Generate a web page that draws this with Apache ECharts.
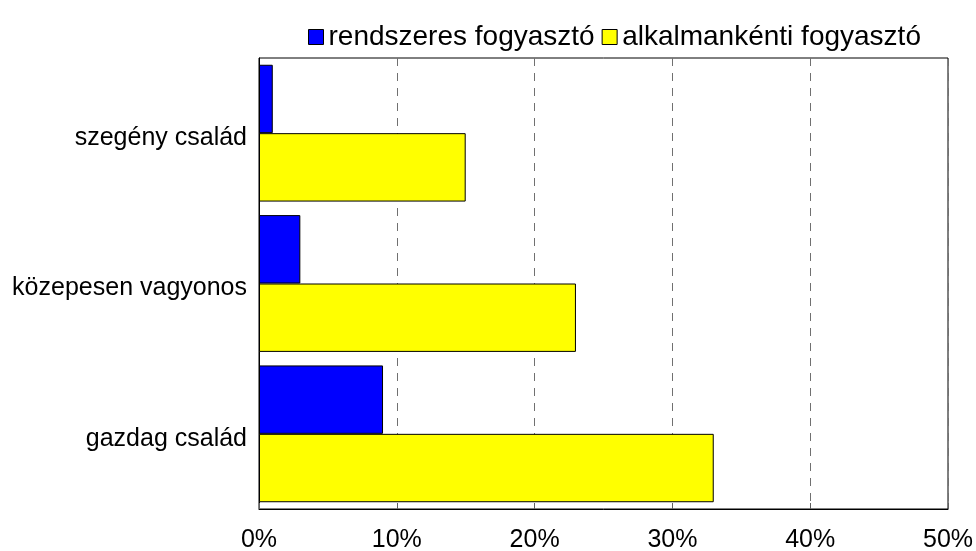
<!DOCTYPE html>
<html>
<head>
<meta charset="utf-8">
<script src="https://cdn.jsdelivr.net/npm/echarts@6/dist/echarts.min.js"></script>
<style>
  html, body { margin: 0; padding: 0; background: #fff; }
  #chart { width: 976px; height: 551px; }
</style>
</head>
<body>
<div id="chart"></div>
<script>
// kategóriák (fentről lefelé)
var categories = ['szegény család', 'közepesen vagyonos', 'gazdag család'];
// százalékos értékek
var rendszeres = [1, 3, 9];
var alkalmankenti = [15, 23, 33];
var seriesNames = ['rendszeres fogyasztó', 'alkalmankénti fogyasztó'];

var chart = echarts.init(document.getElementById('chart'));

var font = "'Liberation Sans', Arial, sans-serif";

var option = {
  animation: false,
  textStyle: { fontFamily: font },
  legend: {
    data: seriesNames,
    icon: 'rect',
    left: 303,
    top: 18,
    itemWidth: 15,
    itemHeight: 15,
    itemGap: 7,
    textStyle: { fontSize: 28, color: '#000', fontFamily: font },
    itemStyle: { borderColor: '#000', borderWidth: 1 }
  },
  grid: {
    left: 259,
    right: 28,
    top: 58,
    bottom: 42,
    outerBoundsMode: 'none',
    show: true,
    borderColor: '#000',
    borderWidth: 1
  },
  xAxis: {
    type: 'value',
    min: 0,
    max: 50,
    interval: 10,
    axisLine: { show: true, lineStyle: { color: '#000' } },
    axisTick: { show: true, inside: true, length: 6, lineStyle: { color: '#606060' } },
    axisLabel: { fontSize: 25, color: '#000', margin: 19, formatter: '{value}%', fontFamily: font },
    splitLine: { show: true, lineStyle: { color: '#707070', type: [8, 7], width: 1 } }
  },
  yAxis: {
    type: 'category',
    inverse: true,
    data: categories,
    axisLine: { show: true, lineStyle: { color: '#000' } },
    axisTick: { show: false },
    axisLabel: { fontSize: 25, color: '#000', margin: 12, verticalAlign: 'top', lineHeight: 10, fontFamily: font }
  },
  series: [
    {
      name: seriesNames[0],
      type: 'bar',
      data: rendszeres,
      barGap: 0,
      barCategoryGap: '9%',
      itemStyle: { color: '#0000ff', borderColor: '#000', borderWidth: 1 },
      emphasis: { disabled: true }
    },
    {
      name: seriesNames[1],
      type: 'bar',
      data: alkalmankenti,
      barGap: 0,
      barCategoryGap: '9%',
      itemStyle: { color: '#ffff00', borderColor: '#000', borderWidth: 1 },
      emphasis: { disabled: true }
    }
  ]
};

chart.setOption(option);
</script>
</body>
</html>
